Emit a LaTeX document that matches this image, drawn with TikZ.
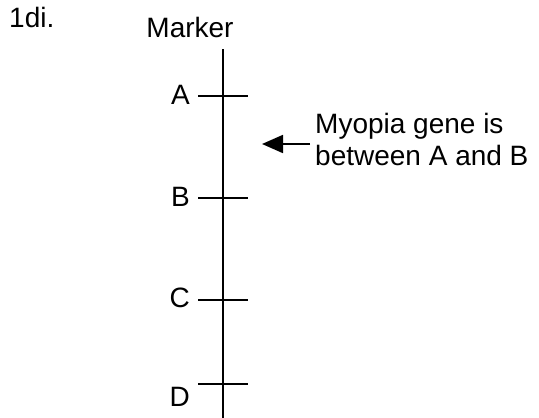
\documentclass[tikz,border=0pt]{standalone}
\usepackage{fontspec}
\setmainfont{Liberation Sans}
\usetikzlibrary{arrows.meta}
\tikzset{
	txt/.style={font=\fontsize{28}{32}\selectfont,inner sep=0pt},
	axis line/.style={line width=1.8pt},
	gene arrow/.style={line width=1.8pt,-{Triangle[length=21pt,width=18pt]}}
}

\begin{document}
\begin{tikzpicture}[x=1pt,y=-1pt]
	\useasboundingbox (0,0) rectangle (539,418);
	\node [txt,anchor=base west] (title) at (9,27) {1di.};
	\node [txt,anchor=base] (marker) at (190,37) {Marker};
	% the chromosome
	\coordinate (top) at (223,49);
	\coordinate (bottom) at (223,418);
	\draw [axis line] (top) -- (bottom);
	\foreach \n/\y in {A/96,B/198,C/300,D/384} {
		\coordinate (s\n) at (198,\y);
		\coordinate (e\n) at (248,\y);
		\draw [axis line] (s\n) -- (e\n);
	}
	\node [txt,anchor=east] (lA) at (190,95) {A};
	\node [txt,anchor=east] (lB) at (190,197) {B};
	\node [txt,anchor=east] (lC) at (190,298) {C};
	\node [txt,anchor=north east] (lD) at (190,387) {D};
	% where the gene is
	\node [txt,anchor=base west,align=left] (note) at (315,165) {Myopia gene is\\between A and B};
	\coordinate (tail) at (310,144);
	\coordinate (tip) at (262,144);
	\draw [gene arrow] (tail) -- (tip);
\end{tikzpicture}
\end{document}
